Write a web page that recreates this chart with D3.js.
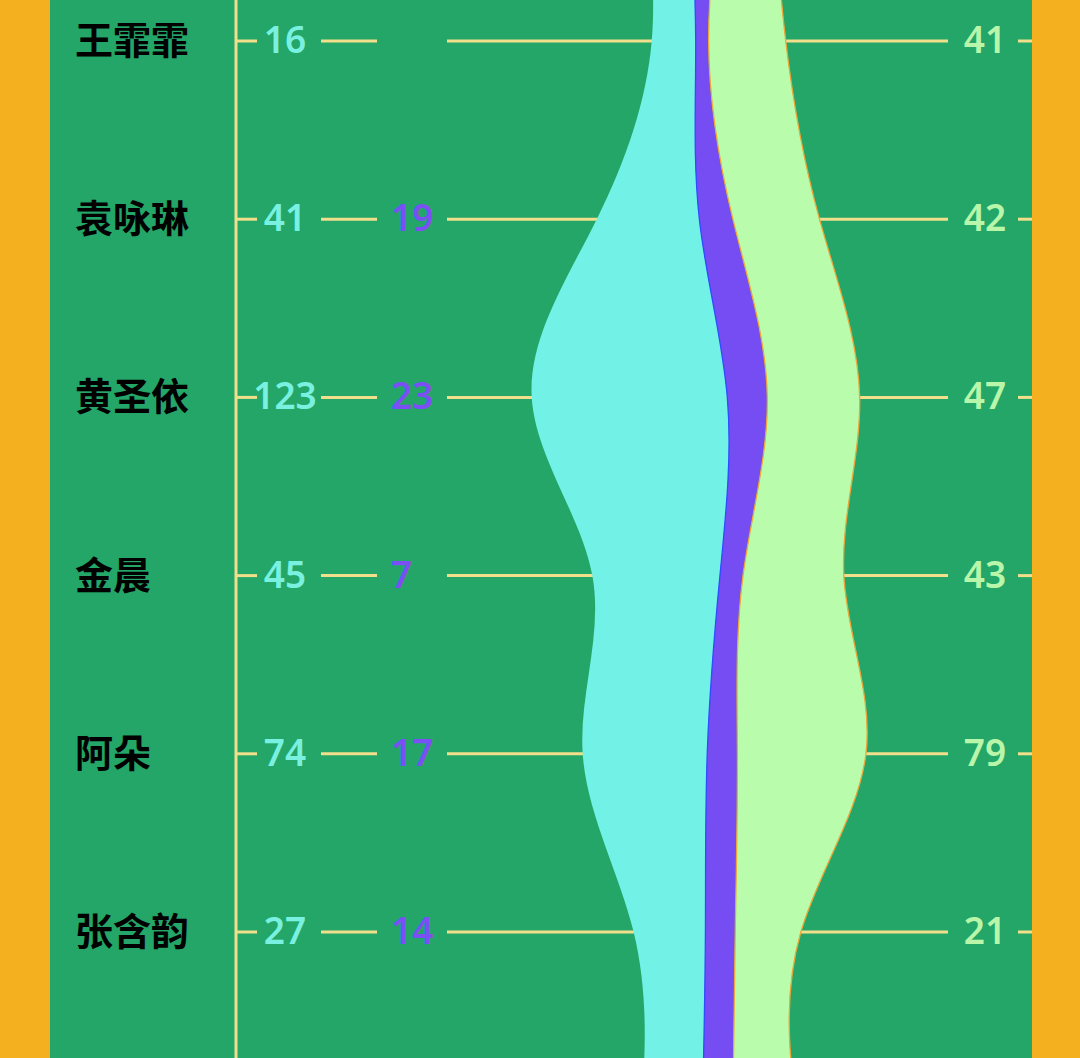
<!DOCTYPE html>
<html>
<head>
<meta charset="utf-8">
<script src="https://cdn.jsdelivr.net/npm/d3@7"></script>
<style>
  html, body { margin: 0; padding: 0; background: #f4b01e; }
  svg { display: block; }
</style>
</head>
<body>
<svg id="chart" width="1080" height="1058"></svg>
<script>
// Rows (first and last entries are the off-picture neighbours of the cropped stream)
const names   = ["", "王霏霏", "袁咏琳", "黄圣依", "金晨", "阿朵", "张含韵", ""];
const seriesA = [25, 16, 41, 123, 45, 74, 27, 30];   // cyan
const seriesB = [19, 0, 19, 23, 7, 17, 14, 15];      // purple
const seriesC = [22, 41, 42, 47, 43, 79, 21, 31];    // light green
const keys = ["a", "b", "c"];

const W = 1080, H = 1058;
const svg = d3.select("#chart");

const colors = { a: "#72f1e7", b: "#764cf3", c: "#b9fcab" };
const strokes = { a: "#72f1e7", b: "#2f4dff", c: "#eea63a" };
const labelColors = { a: "#7af0e0", b: "#7a4ff5", c: "#b9f6aa" };
const lineColor = "#f1df8c";

const rows = names.map((n, i) => ({ name: n, a: seriesA[i], b: seriesB[i], c: seriesC[i], i }));

// scales
const y = d3.scalePoint().domain(rows.map(d => d.i)).range([-137.2, 1110.2]);
const x = d3.scaleLinear().domain([-200, 192]).range([231, 1027]);

// background
svg.append("rect").attr("x", 0).attr("y", 0).attr("width", W).attr("height", H).attr("fill", "#f4b01e");
svg.append("rect").attr("x", 50).attr("y", 0).attr("width", 982).attr("height", H).attr("fill", "#23a667");

// vertical axis
svg.append("line").attr("x1", 236).attr("x2", 236).attr("y1", 0).attr("y2", H)
  .attr("stroke", lineColor).attr("stroke-width", 3);

// horizontal row lines with gaps for labels
const segs = [[236, 257], [321, 377], [447, 948], [1018, 1032]];
const vis = rows.filter(d => d.name !== "");
vis.forEach(d => {
  segs.forEach(s => {
    svg.append("line").attr("x1", s[0]).attr("x2", s[1])
      .attr("y1", y(d.i)).attr("y2", y(d.i))
      .attr("stroke", lineColor).attr("stroke-width", 3);
  });
});

// stream (wiggle offset, basis curve)
const stack = d3.stack().keys(keys).order(d3.stackOrderNone).offset(d3.stackOffsetWiggle);
const layers = stack(rows);
const area = d3.area()
  .curve(d3.curveBasis)
  .y(d => y(d.data.i))
  .x0(d => x(d[0]))
  .x1(d => x(d[1]));

svg.append("g").selectAll("path").data(layers).join("path")
  .attr("d", area)
  .attr("fill", d => colors[d.key])
  .attr("stroke", d => strokes[d.key])
  .attr("stroke-width", d => d.key === "a" ? 0 : 1.3);

// names
svg.append("g").selectAll("text").data(vis).join("text")
  .attr("x", 75).attr("y", d => y(d.i) + 13)
  .attr("font-family", "'Noto Sans CJK SC', 'Noto Sans', sans-serif")
  .attr("font-size", 38).attr("font-weight", 700).attr("fill", "#000")
  .text(d => d.name);

const numFont = "'Noto Sans', 'Open Sans', sans-serif";
// cyan values
svg.append("g").selectAll("text").data(vis).join("text")
  .attr("x", 285).attr("y", d => y(d.i) + 12).attr("text-anchor", "middle")
  .attr("font-family", numFont).attr("font-size", 37).attr("font-weight", 600)
  .attr("fill", labelColors.a).text(d => d.a);
// purple values
svg.append("g").selectAll("text").data(vis.filter(d => d.b > 0)).join("text")
  .attr("x", 391).attr("y", d => y(d.i) + 12).attr("text-anchor", "start")
  .attr("font-family", numFont).attr("font-size", 37).attr("font-weight", 600)
  .attr("fill", labelColors.b).text(d => d.b);
// green values
svg.append("g").selectAll("text").data(vis).join("text")
  .attr("x", 985).attr("y", d => y(d.i) + 12).attr("text-anchor", "middle")
  .attr("font-family", numFont).attr("font-size", 37).attr("font-weight", 600)
  .attr("fill", labelColors.c).text(d => d.c);
</script>
</body>
</html>
